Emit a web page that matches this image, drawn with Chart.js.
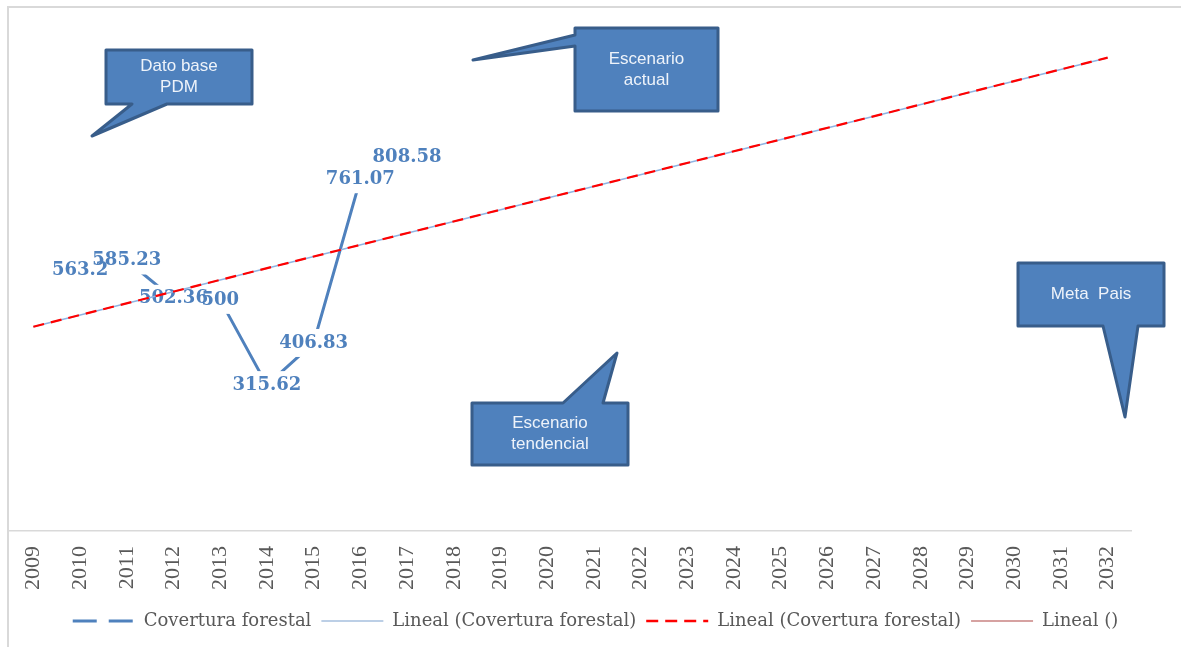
<!DOCTYPE html>
<html>
<head>
<meta charset="utf-8">
<script src="https://cdn.jsdelivr.net/npm/chart.js@4.4.0/dist/chart.umd.min.js"></script>
<style>
  html, body { margin: 0; padding: 0; background: #fff; }
  #wrap { width: 1181px; height: 647px; }
</style>
</head>
<body>
<div id="wrap"><canvas id="myChart"></canvas></div>
<script>
// categories on the x axis
const years = ["2009", "2010", "2011", "2012", "2013", "2014", "2015", "2016",
  "2017", "2018", "2019", "2020", "2021", "2022", "2023", "2024",
  "2025", "2026", "2027", "2028", "2029", "2030", "2031", "2032"];

// Covertura forestal (first year has no value)
const covertura = [null, 563.2, 585.23, 502.36, 500, 315.62, 406.83, 761.07, 808.58];

// linear trend end points (2009 and 2032)
const trendStart = 442;
const trendEnd = 1024;

const seriesNames = ["Covertura forestal", "Lineal (Covertura forestal)",
  "Lineal (Covertura forestal)", "Lineal ()"];

const trendData = years.map((y, i) => i === 0 ? trendStart : (i === years.length - 1 ? trendEnd : null));

// callout shapes (decoration, in canvas pixels)
const callouts = [
  { text: ["Dato base", "PDM"], box: [106, 50, 252, 104], edge: "bottom", base: [132, 167], tip: [92, 136] },
  { text: ["Escenario", "actual"], box: [575, 28, 718, 111], edge: "left", base: [35, 46], tip: [473, 60] },
  { text: ["Meta  Pais"], box: [1018, 263, 1164, 326], edge: "bottom", base: [1103, 1138], tip: [1125, 417] },
  { text: ["Escenario", "tendencial"], box: [472, 403, 628, 465], edge: "top", base: [563, 603], tip: [617, 353] }
];

const legendStyle = [
  { color: "#4f81bd", width: 3, dash: [24, 12] },
  { color: "#7ba0cd", width: 1.2, dash: [] },
  { color: "#ff0000", width: 2.5, dash: [12, 7] },
  { color: "#c98382", width: 1.5, dash: [] }
];

// white background + frame lines
const frame = {
  id: "frame",
  beforeDraw(chart) {
    const c = chart.ctx;
    c.save();
    c.fillStyle = "#fff";
    c.fillRect(0, 0, chart.width, chart.height);
    c.strokeStyle = "#d9d9d9";
    c.lineWidth = 2;
    c.beginPath();
    c.moveTo(7, 7); c.lineTo(chart.width, 7);
    c.moveTo(8, 7); c.lineTo(8, chart.height);
    c.stroke();
    c.restore();
  }
};

// data labels centered on the points, with white boxes hiding the line
const valueLabels = {
  id: "valueLabels",
  afterDatasetDraw(chart, args) {
    if (args.index !== 0) return;
    const c = chart.ctx;
    const pts = args.meta.data;
    c.save();
    c.font = "bold 18px 'DejaVu Serif'";
    const items = [];
    covertura.forEach((v, i) => {
      if (v === null) return;
      const txt = String(v);
      items.push({ x: pts[i].x, y: pts[i].y, w: c.measureText(txt).width, txt: txt });
    });
    c.fillStyle = "#fff";
    items.forEach(b => c.fillRect(b.x - b.w / 2 - 3, b.y - 14, b.w + 6, 28));
    c.fillStyle = "#4f81bd";
    c.textAlign = "center";
    c.textBaseline = "middle";
    items.forEach(b => c.fillText(b.txt, b.x, b.y));
    c.restore();
  }
};

// speech-bubble callouts
const calloutPlugin = {
  id: "callouts",
  afterDraw(chart) {
    const c = chart.ctx;
    c.save();
    callouts.forEach(co => {
      const [x0, y0, x1, y1] = co.box;
      const [a, b] = co.base;
      const [tx, ty] = co.tip;
      c.beginPath();
      c.moveTo(x0, y0);
      if (co.edge === "top") { c.lineTo(a, y0); c.lineTo(tx, ty); c.lineTo(b, y0); }
      c.lineTo(x1, y0);
      c.lineTo(x1, y1);
      if (co.edge === "bottom") { c.lineTo(b, y1); c.lineTo(tx, ty); c.lineTo(a, y1); }
      c.lineTo(x0, y1);
      if (co.edge === "left") { c.lineTo(x0, b); c.lineTo(tx, ty); c.lineTo(x0, a); }
      c.closePath();
      c.fillStyle = "#4f81bd";
      c.fill();
      c.lineJoin = "round";
      c.lineWidth = 3;
      c.strokeStyle = "#385d8a";
      c.stroke();
      c.fillStyle = "#eef3fa";
      c.font = "17px 'Liberation Sans'";
      c.textAlign = "center";
      c.textBaseline = "middle";
      const cx = (x0 + x1) / 2, cy = (y0 + y1) / 2, lh = 21;
      co.text.forEach((t, i) => {
        c.fillText(t, cx, cy + (i - (co.text.length - 1) / 2) * lh);
      });
    });
    c.restore();
  }
};

const ctx = document.getElementById("myChart").getContext("2d");
const chart = new Chart(ctx, {
  type: "line",
  data: {
    labels: years,
    datasets: [
      {
        label: seriesNames[0],
        data: covertura,
        borderColor: "#4f81bd",
        borderWidth: 3,
        pointRadius: 0,
        order: 10
      },
      {
        label: seriesNames[1],
        data: trendData,
        borderColor: "#8eb4e3",
        borderWidth: 1.5,
        pointRadius: 0,
        spanGaps: true,
        order: 3
      },
      {
        label: seriesNames[2],
        data: trendData,
        borderColor: "#ff0000",
        borderWidth: 2.2,
        borderDash: [11, 7],
        pointRadius: 0,
        spanGaps: true,
        order: 2
      },
      {
        label: seriesNames[3],
        data: [],
        borderColor: "#c98382",
        borderWidth: 1.5,
        pointRadius: 0,
        order: 1
      }
    ]
  },
  options: {
    responsive: true,
    maintainAspectRatio: false,
    animation: false,
    layout: { padding: { left: 10, top: 11, right: 0, bottom: 7 } },
    plugins: {
      tooltip: { enabled: false },
      legend: {
        position: "bottom",
        labels: {
          usePointStyle: true,
          pointStyle: "line",
          pointStyleWidth: 62,
          padding: 10,
          color: "#595959",
          font: { family: "'DejaVu Serif'", size: 18 },
          generateLabels(ch) {
            return ch.data.datasets.map((ds, i) => ({
              text: ds.label,
              datasetIndex: i,
              fillStyle: legendStyle[i].color,
              strokeStyle: legendStyle[i].color,
              lineWidth: legendStyle[i].width,
              lineDash: legendStyle[i].dash,
              pointStyle: "line",
              fontColor: "#595959",
              hidden: false
            }));
          }
        }
      }
    },
    scales: {
      x: {
        offset: true,
        grid: { display: false },
        border: { display: true, color: "#d9d9d9", width: 1.5 },
        ticks: {
          autoSkip: false,
          minRotation: 90,
          maxRotation: 90,
          padding: 7,
          color: "#595959",
          font: { family: "'Liberation Serif'", size: 22 }
        },
        afterFit(s) { s.height = 71; }
      },
      y: {
        position: "right",
        min: 0,
        max: 1125,
        grid: { display: false },
        border: { display: false },
        ticks: { display: false },
        afterFit(s) { s.width = 50; }
      }
    }
  },
  plugins: [frame, valueLabels, calloutPlugin]
});
</script>
</body>
</html>
